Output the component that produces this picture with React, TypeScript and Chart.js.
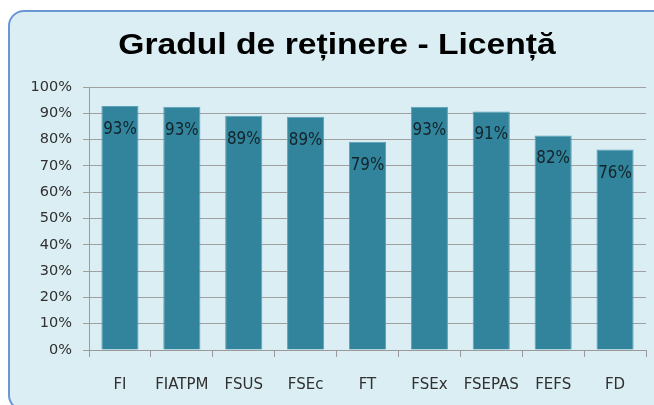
import React, { useEffect, useRef } from "react";
import { Chart, registerables } from "chart.js";

Chart.register(...registerables);

const categories = ["FI", "FIATPM", "FSUS", "FSEc", "FT", "FSEx", "FSEPAS", "FEFS", "FD"];
const retention = [92.8, 92.5, 89.1, 88.7, 79.2, 92.5, 90.7, 81.6, 76.2];
const yMin = 0;
const yMax = 100;
const yStep = 10;
const titleText = "Gradul de reținere - Licență";

const valueLabels = {
  id: "valueLabels",
  afterDatasetsDraw(chart: any) {
    const ctx = chart.ctx;
    const meta = chart.getDatasetMeta(0);
    meta.data.forEach((bar: any, i: number) => {
      ctx.save();
      ctx.translate(bar.x, bar.y + 28);
      ctx.scale(0.84, 1);
      ctx.font = '18px "DejaVu Sans"';
      ctx.fillStyle = "#13232a";
      ctx.textAlign = "center";
      ctx.textBaseline = "alphabetic";
      ctx.fillText(Math.round(retention[i]) + "%", 0, 0);
      ctx.restore();
    });
  },
};

export default function App() {
  const ref = useRef<HTMLCanvasElement>(null);
  useEffect(() => {
    if (!ref.current) return;
    const chart = new Chart(ref.current, {
      type: "bar",
      data: {
        labels: categories,
        datasets: [
          {
            data: retention,
            backgroundColor: "#31849b",
            borderColor: "#5aa2b6",
            borderWidth: 1,
            barPercentage: 0.6,
            categoryPercentage: 1,
          },
        ],
      },
      options: {
        responsive: false,
        animation: false,
        layout: { padding: { top: 87, left: 29, right: 28, bottom: 15 } },
        plugins: { legend: { display: false }, title: { display: false }, tooltip: { enabled: false } },
        scales: {
          x: {
            afterFit(scale: any) {
              scale.height = 40;
            },
            grid: { display: true, drawOnChartArea: false, drawTicks: true, tickLength: 7, color: "#9a9a9a", offset: true },
            border: { display: true, color: "#9a9a9a" },
            ticks: { color: "#303030", font: { family: "DejaVu Sans", size: 15 }, padding: 19, maxRotation: 0, autoSkip: false },
          },
          y: {
            min: yMin,
            max: yMax,
            afterFit(scale: any) {
              scale.width = 60;
            },
            grid: { color: "#a0a0a0", tickLength: 6, drawTicks: true },
            border: { display: true, color: "#9a9a9a" },
            ticks: {
              stepSize: yStep,
              color: "#303030",
              font: { family: "DejaVu Sans", size: 14.5 },
              padding: 11,
              callback: (v: any) => v + "%",
            },
          },
        },
      },
      plugins: [valueLabels],
    });
    return () => chart.destroy();
  }, []);

  return (
    <div style={{ position: "fixed", left: 0, top: 0, width: 654, height: 405, overflow: "hidden" }}>
      <div
        style={{
          position: "absolute",
          left: 8,
          top: 10,
          width: 660,
          height: 397,
          border: "2px solid #6a97d4",
          borderRadius: 16,
          background: "#dbeef4",
        }}
      />
      <div
        style={{
          position: "absolute",
          left: 0,
          top: 29.5,
          width: 674,
          textAlign: "center",
          fontFamily: '"Liberation Sans", Arial, sans-serif',
          fontWeight: "bold",
          fontSize: 29,
          lineHeight: "29px",
          color: "#000",
          transform: "scaleX(1.16)",
          transformOrigin: "337px 0",
          whiteSpace: "nowrap",
        }}
      >
        {titleText}
      </div>
      <canvas ref={ref} width={674} height={405} style={{ position: "absolute", left: 0, top: 0 }} />
    </div>
  );
}
